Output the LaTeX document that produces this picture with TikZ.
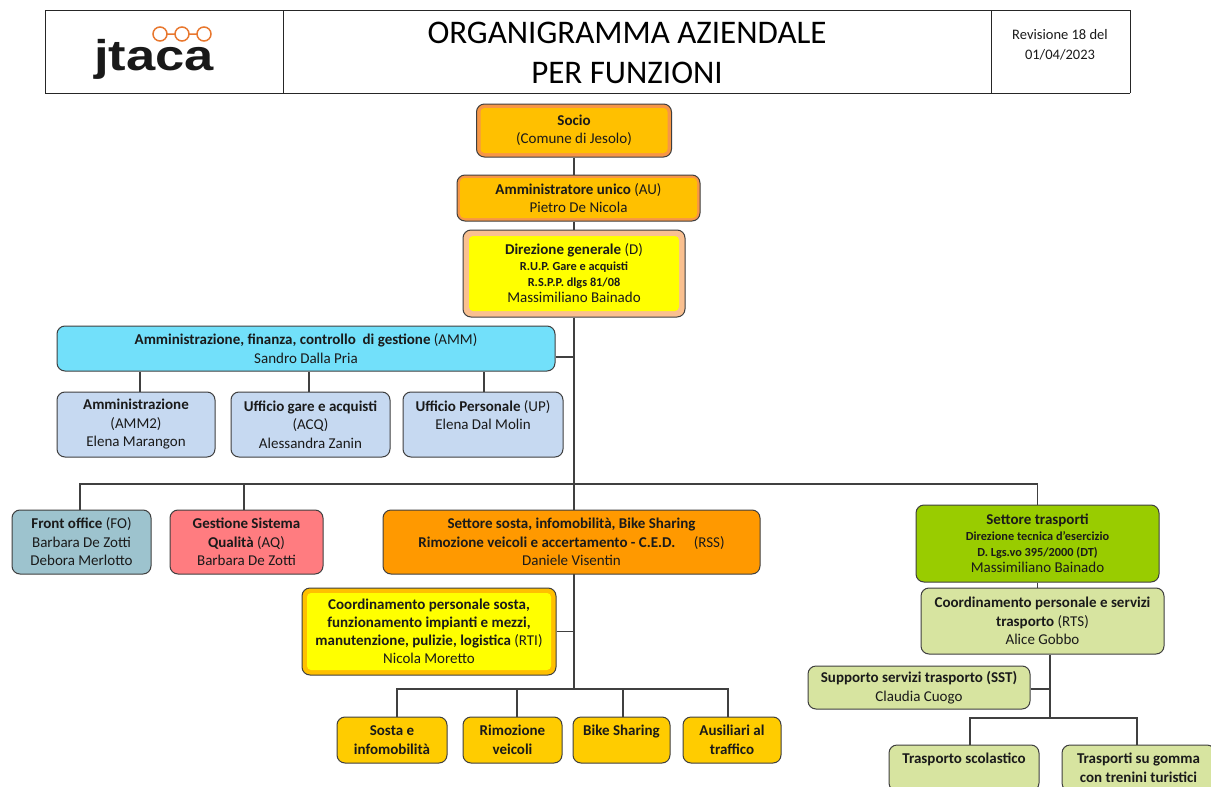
\documentclass[tikz,border=0pt]{standalone}
\usepackage{fontspec}
\setmainfont{Carlito}
\newfontfamily\logofont{Liberation Sans}
\usetikzlibrary{backgrounds,calc}
\definecolor{boxline}{HTML}{3F3F3F}
\definecolor{connline}{HTML}{404040}
\definecolor{txt}{HTML}{1A1A1A}
\definecolor{orangeband}{HTML}{F79646}
\definecolor{goldf}{HTML}{FFC000}
\definecolor{peach}{HTML}{FAC090}
\definecolor{yellowf}{HTML}{FFFF00}
\definecolor{cyanf}{HTML}{72E0FA}
\definecolor{lblue}{HTML}{C6D9F1}
\definecolor{teal}{HTML}{9DC3CE}
\definecolor{salmon}{HTML}{FF7C80}
\definecolor{orangef}{HTML}{FF9900}
\definecolor{yellow2}{HTML}{FFCC00}
\definecolor{greenf}{HTML}{99CC00}
\definecolor{lgreen}{HTML}{D7E4A0}
\definecolor{logoorange}{HTML}{E8772E}
\newcommand\fz[2]{\fontsize{#1}{#2}\selectfont}
\newcommand\sm[1]{{\fontsize{12.3}{16}\selectfont #1}}
\tikzset{
  box/.style={draw=boxline, line width=1pt, rounded corners=8pt, align=center,
    inner sep=0pt, text=txt, font=\fz{15}{18.5}},
  conn/.style={draw=connline, line width=1.1pt},
  hdr/.style={draw=black!85, line width=0.9pt},
  band/.style n args={3}{fill=#1, path picture={\fill[#2, rounded corners=4pt]
    ([shift={(#3,-#3)}]path picture bounding box.north west) rectangle
    ([shift={(-#3,#3)}]path picture bounding box.south east);}},
}
\begin{document}
\begin{tikzpicture}[x=1pt,y=-1pt]
\useasboundingbox (0,0) rectangle (1211,787);
\clip (0,0) rectangle (1211,787);
% header
\draw[hdr] (45,10) -- (1130,10) (45,93) -- (1130,93)
  (45,10) -- (45,93) (283,10) -- (283,93) (991,10) -- (991,93) (1130,10) -- (1130,93);
\node[font=\logofont\bfseries\fz{43}{43}, anchor=base west, inner sep=0pt, text=black!90] (logo) at (94,70) {\scalebox{1.22}[1]{jtaca}};
\draw[logoorange, line width=1.5pt] (160,34) circle (7) (182,34) circle (7) (204,34) circle (7)
  (167,34) -- (175,34) (189,34) -- (197,34);
\node[font=\fz{33}{40}, align=center, text=black] (title) at (627,53) {ORGANIGRAMMA AZIENDALE\\PER FUNZIONI};
\node[font=\fz{14.5}{19.5}, align=center, text=txt] (rev) at (1060,45) {Revisione 18 del\\01/04/2023};
% nodes
\node[box, band={orangeband}{goldf}{4pt}, minimum width=195pt, minimum height=53pt] (socio) at (574,130.5)
  {\textbf{Socio}\\(Comune di Jesolo)};
\node[box, band={orangeband}{goldf}{3pt}, minimum width=243pt, minimum height=46pt] (au) at (578.5,198)
  {\textbf{Amministratore unico} (AU)\\Pietro De Nicola};
\node[box, band={peach}{yellowf}{6pt}, minimum width=222pt, minimum height=87pt, font=\fz{15}{16}] (dg) at (574,273.5)
  {\textbf{Direzione generale} (D)\\\sm{\textbf{R.U.P. Gare e acquisti}}\\\sm{\textbf{R.S.P.P. dlgs 81/08}}\\Massimiliano Bainado};
\node[box, fill=cyanf, minimum width=498pt, minimum height=45pt] (amm) at (306,348.5)
  {\textbf{Amministrazione, finanza, controllo\ \ di gestione} (AMM)\\Sandro Dalla Pria};
\node[box, fill=lblue, minimum width=158pt, minimum height=65pt] (amm2) at (136,424.5)
  {\textbf{Amministrazione}\\(AMM2)\\Elena Marangon};
\node[box, fill=lblue, minimum width=159pt, minimum height=65pt] (acq) at (310.5,424.5)
  {\textbf{Ufficio gare e acquisti}\\(ACQ)\\Alessandra Zanin};
\node[box, fill=lblue, minimum width=160pt, minimum height=65pt] (up) at (483,424.5)
  {\textbf{Ufficio Personale} (UP)\\Elena Dal Molin\\\mbox{}};
\node[box, fill=teal, minimum width=139pt, minimum height=64pt] (fo) at (81.5,542)
  {\textbf{Front office} (FO)\\Barbara De Zotti\\Debora Merlotto};
\node[box, fill=salmon, minimum width=153pt, minimum height=64pt] (aq) at (246.5,542)
  {\textbf{Gestione Sistema}\\\textbf{Qualità} (AQ)\\Barbara De Zotti};
\node[box, fill=orangef, minimum width=377pt, minimum height=64pt] (rss) at (571.5,542)
  {\textbf{Settore sosta, infomobilità, Bike Sharing}\\\textbf{Rimozione veicoli e accertamento - C.E.D.}\quad\ (RSS)\\Daniele Visentin};
\node[box, band={goldf}{yellowf}{5pt}, minimum width=254pt, minimum height=87pt, font=\fz{15}{18}] (rti) at (429,631.5)
  {\textbf{Coordinamento personale sosta,}\\\textbf{funzionamento impianti e mezzi,}\\\textbf{manutenzione, pulizie, logistica} (RTI)\\Nicola Moretto};
\node[box, fill=yellow2, minimum width=110pt, minimum height=46pt, font=\bfseries\fz{15}{19.5}] (sosta) at (392,740)
  {Sosta e\\infomobilità};
\node[box, fill=yellow2, minimum width=99pt, minimum height=46pt, font=\bfseries\fz{15}{19.5}] (rimoz) at (512.5,740)
  {Rimozione\\veicoli};
\node[box, fill=yellow2, minimum width=97pt, minimum height=46pt, font=\bfseries\fz{15}{19.5}] (bike) at (621.5,740)
  {Bike Sharing\\\mbox{}};
\node[box, fill=yellow2, minimum width=98pt, minimum height=46pt, font=\bfseries\fz{15}{19.5}] (ausil) at (732,740)
  {Ausiliari al\\traffico};
\node[box, fill=greenf, minimum width=243pt, minimum height=77pt, font=\fz{15}{16}] (st) at (1037.5,543.5)
  {\textbf{Settore trasporti}\\\sm{\textbf{Direzione tecnica d’esercizio}}\\\sm{\textbf{D. Lgs.vo 395/2000 (DT)}}\\Massimiliano Bainado};
\node[box, fill=lgreen, minimum width=243pt, minimum height=66pt] (rts) at (1042.5,621)
  {\textbf{Coordinamento personale e servizi}\\\textbf{trasporto} (RTS)\\Alice Gobbo};
\node[box, fill=lgreen, minimum width=222pt, minimum height=43pt] (sst) at (919,687.5)
  {\textbf{Supporto servizi trasporto (SST)}\\Claudia Cuogo};
\node[box, fill=lgreen, minimum width=150pt, minimum height=46pt, font=\bfseries\fz{15}{19}] (ts) at (964,768)
  {Trasporto scolastico\\\mbox{}};
\node[box, fill=lgreen, minimum width=153pt, minimum height=46pt, font=\bfseries\fz{15}{19}] (tg) at (1138.5,768)
  {Trasporti su gomma\\con trenini turistici};
% connectors
\coordinate (busL) at (574,484);
\coordinate (busB) at (574,689);
\coordinate (rbus) at (1050,718);
\begin{scope}[on background layer]
\fill[white] (0,0) rectangle (1211,787);
\draw[conn] (socio.south) -- (socio.south |- au.north);
\draw[conn] (dg.north |- au.south) -- (dg.north);
\draw[conn] (dg.south) -- (busB);
\draw[conn] ([yshift=-8.5pt]amm.east) -- ([yshift=-8.5pt]amm.east -| dg.south);
\draw[conn] ([xshift=4pt]amm2.north) -- ([xshift=4pt]amm2.north |- amm.south);
\draw[conn] ([xshift=-1.5pt]acq.north) -- ([xshift=-1.5pt]acq.north |- amm.south);
\draw[conn] ([xshift=1pt]up.north) -- ([xshift=1pt]up.north |- amm.south);
\draw[conn] ([xshift=-1.5pt]fo.north) |- (busL) -| (st.north);
\draw[conn] ([xshift=-2.5pt]aq.north) -- ([xshift=-2.5pt]aq.north |- busL);
\draw[conn] (rti.east) -- (rti.east -| dg.south);
\draw[conn] ([xshift=5pt]sosta.north) |- (busB) -| ([xshift=-4pt]ausil.north);
\draw[conn] ([xshift=4.5pt]rimoz.north) -- ([xshift=4.5pt]rimoz.north |- busB);
\draw[conn] ([xshift=1.5pt]bike.north) -- ([xshift=1.5pt]bike.north |- busB);
\draw[conn] (st.south) -- (st.south |- rts.north);
\draw[conn] ([xshift=7.5pt]rts.south) -- (rbus);
\draw[conn] ([yshift=-1.5pt]sst.east) -- ([yshift=-1.5pt]sst.east -| rbus);
\draw[conn] ([xshift=6pt]ts.north) |- (rbus) -| ([xshift=-1.5pt]tg.north);
\end{scope}
\end{tikzpicture}
\end{document}
